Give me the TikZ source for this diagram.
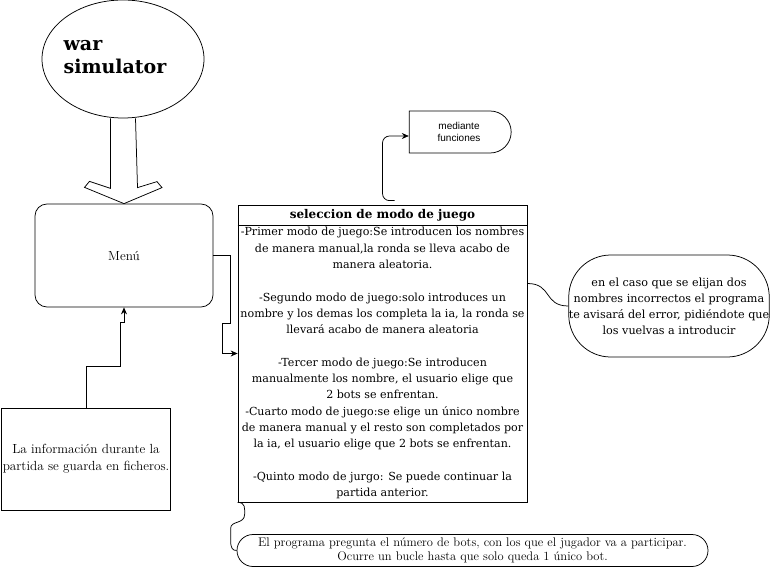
\documentclass[tikz,border=0pt]{standalone}
\usepackage{fontspec}
\newfontfamily\geo{DejaVu Serif}
\setsansfont{Liberation Sans}
\usetikzlibrary{shapes.geometric,shapes.misc,arrows.meta}
\tikzset{
  caja/.style={draw, inner sep=0pt, align=center, font=\fontsize{13.2}{17}\selectfont},
  flecha/.style={-{Stealth[length=7pt,width=6pt]}},
}
\begin{document}
\begin{tikzpicture}[x=1pt, y=-1pt, line width=0.75pt]
    \useasboundingbox (0,0) rectangle (775,569);

    % titulo
    \node[draw, ellipse, minimum width=162, minimum height=118, inner sep=0] (war) at (123,59) {};
    \node[align=left, inner sep=0, font=\geo\fontsize{19}{23}\selectfont\bfseries] (wartxt) at (115,57) {war\\simulator};

    \node[caja, rounded corners=12, minimum width=178, minimum height=103] (menu) at (124,255.5) {Menú};
    \node[caja, minimum width=169, minimum height=102] (info) at (86,459)
        {La información durante la\\partida se guarda en ficheros.};

    % flecha gruesa
    \draw ([xshift=-12.5]war.south) -- ++(0,70) -- ++(-21,-7) -- ++(-5,6) -- (menu.north)
        -- ++(38,-16) -- ++(-5,-6) -- ++(-19.5,6) -- ([xshift=12.5]war.south);

    % seleccion de modo de juego
    \node[draw, minimum width=289, minimum height=297, inner sep=0] (sel) at (382.5,353.5) {};
    \draw ([yshift=-21]sel.north west) -- ([yshift=-21]sel.north east);
    \node[inner sep=0, font=\geo\fontsize{12}{20}\selectfont\bfseries] (seltit) at (382.5,215.5) {seleccion de modo de juego};
    \node[anchor=north, align=center, inner sep=0, font=\geo\fontsize{11.1}{16.3}\selectfont] (selbody) at (382.5,227)
        {-Primer modo de juego:Se introducen los nombres\\
         de manera manual,la ronda se lleva acabo de\\
         manera aleatoria.\\[16.3pt]
         -Segundo modo de juego:solo introduces un\\
         nombre y los demas los completa la ia, la ronda se\\
         llevará acabo de manera aleatoria\\[16.3pt]
         -Tercer modo de juego:Se introducen\\
         manualmente los nombre, el usuario elige que\\
         2 bots se enfrentan.\\
         -Cuarto modo de juego:se elige un único nombre\\
         de manera manual y el resto son completados por\\
         la ia, el usuario elige que 2 bots se enfrentan.\\[16.3pt]
         -Quinto modo de jurgo: Se puede continuar la\\
         partida anterior.};

    \node[draw, rounded rectangle, rounded rectangle left arc=none, minimum width=102, minimum height=42,
        inner sep=0, align=center, font=\sffamily\fontsize{10}{12}\selectfont] (med) at (459,132) {mediante\\funciones};

    \node[caja, rounded corners=42, minimum width=198, minimum height=102, font=\geo\fontsize{11.2}{16}\selectfont] (err) at (669,306)
        {en el caso que se elijan dos\\nombres incorrectos el programa\\te avisará del error, pidiéndote que\\los vuelvas a introducir};

    \node[draw, rounded rectangle, minimum width=471, minimum height=32, inner sep=0, align=center,
        font=\fontsize{12.5}{13.5}\selectfont] (bot) at (472.5,550.5)
        {El programa pregunta el número de bots, con los que el jugador va a participar.\\Ocurre un bucle hasta que solo queda 1 único bot.};

    % conectores
    \draw[flecha] (menu.east) -- ++(17,0) -- ++(0,68) -- ++(-8,0) |- (sel.west);
    \draw[flecha] (info.north) -- ++(0,-41) -| ++(34,-44) -| (menu.south);
    \draw[flecha, rounded corners=7] ([xshift=12,yshift=4]sel.north) -- ++(-12,0) |- ([yshift=-4]med.west);
    \draw ([yshift=70]sel.east) .. controls +(25,0) and +(-25,0) .. (err.west);
    \draw (sel.south west) .. controls +(8,0) and +(0,-6) .. ++(7,12)
        .. controls +(0,10) and +(0,-8) .. ++(-14,14) -- ++(0,12)
        .. controls +(0,8) and +(-4,0) .. (bot.west);
\end{tikzpicture}
\end{document}
